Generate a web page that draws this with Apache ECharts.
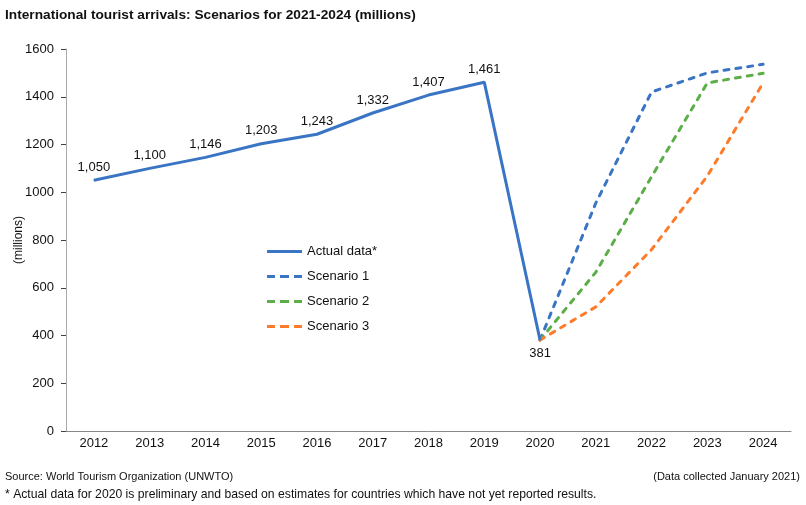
<!DOCTYPE html>
<html><head><meta charset="utf-8">
<script src="https://cdn.jsdelivr.net/npm/echarts@6/dist/echarts.min.js"></script>
<style>html,body{margin:0;padding:0;background:#fff}#c{width:806px;height:505px}</style>
</head><body><div id="c"></div>
<script>
const years = ['2012','2013','2014','2015','2016','2017','2018','2019','2020','2021','2022','2023','2024'];
const actual = [1050, 1100, 1146, 1203, 1243, 1332, 1407, 1461, 381, null, null, null, null];
const scenario1 = [null, null, null, null, null, null, null, null, 381, 955, 1420, 1500, 1536];
const scenario2 = [null, null, null, null, null, null, null, null, 381, 665, 1065, 1458, 1498];
const scenario3 = [null, null, null, null, null, null, null, null, 381, 520, 760, 1068, 1458];
const yTicks = [0, 200, 400, 600, 800, 1000, 1200, 1400, 1600];

const FONT = 'Liberation Sans, Arial, sans-serif';
const TXT = '#111';
const chart = echarts.init(document.getElementById('c'), null, {renderer: 'canvas'});
const DASH_ICON = 'path://M0,0h8v3h-8z M13,0h9v3h-9z M27,0h8v3h-8z';
const dashed = (name, data, color) => ({
  name, type: 'line', data, symbol: 'none', connectNulls: false,
  lineStyle: {color, width: 3, type: [5, 7], cap: 'round'}, itemStyle: {color}, z: 2
});
const actualData = actual.map((v, i) =>
  i === 8 ? {value: v, label: {position: 'bottom', distance: 6}} : v);
chart.setOption({
  animation: false,
  title: {text: 'International tourist arrivals: Scenarios for 2021-2024 (millions)', left: 0, top: 3,
    textStyle: {fontFamily: FONT, fontSize: 13.7, fontWeight: 'bold', color: TXT}},
  grid: {left: 66, right: 15, top: 49, bottom: 74, containLabel: false, outerBoundsMode: 'none'},
  legend: {
    orient: 'vertical', left: 262, top: 240, itemGap: 12, itemWidth: 35, itemHeight: 14,
    textStyle: {fontFamily: FONT, fontSize: 13, color: TXT},
    data: [
      {name: 'Actual data*', icon: 'path://M0,0H35V3H0Z'},
      {name: 'Scenario 1', icon: DASH_ICON},
      {name: 'Scenario 2', icon: DASH_ICON},
      {name: 'Scenario 3', icon: DASH_ICON}
    ]
  },
  xAxis: {
    type: 'category', data: years, boundaryGap: true,
    axisLine: {lineStyle: {color: '#888', width: 1}},
    axisTick: {alignWithLabel: true, length: 5, lineStyle: {color: '#444'}},
    axisLabel: {fontFamily: FONT, fontSize: 13, color: TXT, margin: 6}
  },
  yAxis: {
    type: 'value', min: 0, max: 1600, interval: 200,
    name: '(millions)', nameLocation: 'middle', nameGap: 41, nameRotate: 90, nameMoveOverlap: false,
    nameTextStyle: {fontFamily: FONT, fontSize: 12, color: TXT},
    axisLine: {show: true, lineStyle: {color: '#aaa'}},
    axisTick: {show: true, length: 5, lineStyle: {color: '#444'}},
    axisLabel: {fontFamily: FONT, fontSize: 13, color: TXT, margin: 12,
      formatter: v => yTicks.includes(v) ? String(v) : ''},
    splitLine: {show: false}
  },
  series: [
    {
      name: 'Actual data*', type: 'line', data: actualData, symbol: 'circle', symbolSize: 1,
      showSymbol: true, z: 3,
      lineStyle: {color: '#3a74c4', width: 3}, itemStyle: {color: '#3a74c4'},
      label: {show: true, fontFamily: FONT, fontSize: 13, color: TXT, distance: 6, position: 'top',
        formatter: p => p.value == null ? '' : Number(p.value).toLocaleString('en-US')},
      labelLayout: {hideOverlap: false}
    },
    dashed('Scenario 1', scenario1, '#3a74c4'),
    dashed('Scenario 2', scenario2, '#5cae48'),
    dashed('Scenario 3', scenario3, '#fd7c2b')
  ],
  graphic: [
    {type: 'text', left: 5, top: 471, style: {text: 'Source: World Tourism Organization (UNWTO)', font: '11px ' + FONT, fill: TXT}},
    {type: 'text', right: 6, top: 471, style: {text: '(Data collected January 2021)', font: '11px ' + FONT, fill: TXT}},
    {type: 'text', left: 5, top: 489, style: {text: '* Actual data for 2020 is preliminary and based on estimates for countries which have not yet reported results.', font: '12.2px ' + FONT, fill: TXT}}
  ]
});
</script></body></html>
